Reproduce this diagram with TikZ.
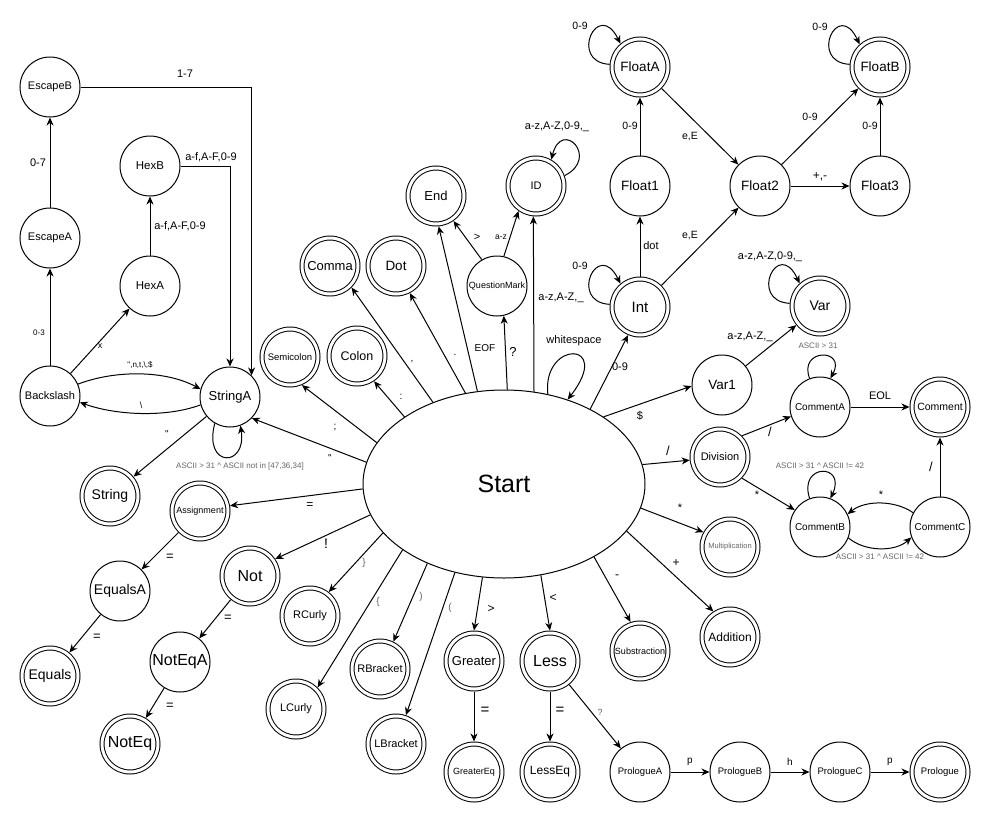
\documentclass[tikz,border=0pt]{standalone}
\usepackage{fontspec}
\newfontfamily\lsans{Liberation Sans}
\usetikzlibrary{arrows.meta,shapes.geometric}
\newcommand\fsz[1]{\lsans\fontsize{#1}{#1}\selectfont}
\definecolor{lblgray}{HTML}{666666}

\begin{document}
\begin{tikzpicture}[x=1pt,y=-1pt,
  st/.style={circle,draw,line width=1pt,minimum size=60pt,inner sep=0pt,outer sep=0.5pt,font=\fsz{11}},
  acc/.style={circle,draw,line width=1pt,double,double distance=3pt,minimum size=56pt,inner sep=0pt,outer sep=2.5pt,font=\fsz{11}},
  ar/.style={-{Stealth[length=8pt,width=7pt,inset=2.5pt]},line width=1pt},
  lb/.style={inner sep=0pt,font=\fsz{11}},
  sm/.style={inner sep=0pt,font=\fsz{8},text=lblgray},
]
\fill[white] (0,0) rectangle (991,822);
\useasboundingbox (0,0) rectangle (991,822);

% ---------- states ----------
\node[ellipse,draw,line width=1pt,minimum width=282pt,minimum height=188pt,inner sep=0pt,font=\fsz{25}] (Start) at (504,484) {Start};

\node[st] (EscapeB) at (50,87) {EscapeB};
\node[st] (EscapeA) at (50,238) {EscapeA};
\node[st,font=\fsz{11.5}] (HexB) at (150,166) {HexB};
\node[st,font=\fsz{11.5}] (HexA) at (150,286) {HexA};
\node[st] (Backslash) at (50,396) {Backslash};
\node[st,font=\fsz{13}] (StringA) at (230,397) {StringA};
\node[acc,font=\fsz{14}] (String) at (110,496) {String};
\node[acc,font=\fsz{9}] (Assignment) at (200,511) {Assignment};
\node[st,font=\fsz{14}] (EqualsA) at (120,591) {EqualsA};
\node[acc,font=\fsz{14}] (Equals) at (50,676) {Equals};
\node[acc,font=\fsz{16}] (Not) at (250,576) {Not};
\node[st,font=\fsz{16}] (NotEqA) at (180,662) {NotEqA};
\node[acc,font=\fsz{16}] (NotEq) at (130,744) {NotEq};
\node[acc] (RCurly) at (310,616) {RCurly};
\node[acc] (LCurly) at (296,709) {LCurly};
\node[acc] (RBracket) at (380,669) {RBracket};
\node[acc] (LBracket) at (396,744) {LBracket};
\node[acc,font=\fsz{13}] (Greater) at (474,661) {Greater};
\node[acc,font=\fsz{9}] (GreaterEq) at (474,772) {GreaterEq};
\node[acc,font=\fsz{16}] (Less) at (550,661) {Less};
\node[acc,font=\fsz{12}] (LessEq) at (550,772) {LessEq};
\node[acc,font=\fsz{9}] (Substraction) at (640,651) {Substraction};
\node[acc,font=\fsz{12}] (Addition) at (730,637) {Addition};
\node[st,font=\fsz{9.5}] (PrologueA) at (640,772) {PrologueA};
\node[st,font=\fsz{9.5}] (PrologueB) at (740,772) {PrologueB};
\node[st,font=\fsz{9.5}] (PrologueC) at (840,772) {PrologueC};
\node[acc,font=\fsz{9.5}] (Prologue) at (940,772) {Prologue};
\node[acc,font=\fsz{7.5},text=lblgray] (Multiplication) at (730,547) {Multiplication};
\node[acc] (Division) at (720,457) {Division};
\node[st,font=\fsz{13.5}] (Var1) at (722,385) {Var1};
\node[st,font=\fsz{10}] (CommentA) at (820,407) {CommentA};
\node[acc,font=\fsz{10.5}] (Comment) at (940,407) {Comment};
\node[st,font=\fsz{10}] (CommentB) at (820,527) {CommentB};
\node[st,font=\fsz{10}] (CommentC) at (940,527) {CommentC};
\node[acc,font=\fsz{14}] (Var) at (820,306) {Var};
\node[acc,font=\fsz{15}] (Int) at (640,307) {Int};
\node[st,font=\fsz{13.5}] (Float1) at (640,186) {Float1};
\node[acc,font=\fsz{13.5}] (FloatA) at (640,67) {FloatA};
\node[st,font=\fsz{13.5}] (Float2) at (760,186) {Float2};
\node[st,font=\fsz{13.5}] (Float3) at (880,186) {Float3};
\node[acc,font=\fsz{13.5}] (FloatB) at (880,67) {FloatB};
\node[acc] (ID) at (536,186) {ID};
\node[acc,font=\fsz{13}] (End) at (436,196) {End};
\node[st,font=\fsz{9}] (QuestionMark) at (497,286) {QuestionMark};
\node[acc,font=\fsz{13}] (Comma) at (330,266) {Comma};
\node[acc,font=\fsz{13.5}] (Dot) at (396,266) {Dot};
\node[acc,font=\fsz{9.5}] (Semicolon) at (290,357) {Semicolon};
\node[acc,font=\fsz{12.5}] (Colon) at (357,356) {Colon};

% ---------- strings and escapes ----------
\draw[ar] (Backslash) -- (EscapeA) node[lb,font=\fsz{8}] at (39,333) {0-3};
\draw[ar] (EscapeA) -- (EscapeB) node[lb] at (38,163) {0-7};
\draw[ar] (Backslash) -- (HexA) node[lb,font=\fsz{9}] at (100,346) {x};
\draw[ar] (HexA) -- (HexB) node[lb] at (180,226) {a-f,A-F,0-9};
\draw[ar] (HexB.east) -| (StringA.north) node[lb] at (211,157) {a-f,A-F,0-9};
\draw[ar] (EscapeB.east) -| (StringA.45) node[lb] at (185,74) {1-7};
\draw[ar] (Backslash.23) .. controls (115,370) and (165,370) .. (StringA.165)
  node[lb,font=\fsz{8}] at (140,365) {",n,t,\textbackslash,\$};
\draw[ar] (StringA.195) .. controls (165,418) and (115,415) .. (Backslash.-12)
  node[lb,font=\fsz{9}] at (141,405) {\textbackslash};
\draw[ar] (StringA) -- (String) node[lb,font=\fsz{10}] at (167,434) {"};
\draw[ar] (StringA.-120) .. controls (203,468) and (247,468) .. (StringA.-70)
  node[sm] at (240,466) {ASCII > 31 \textasciicircum\ ASCII not in [47,36,34]};

% ---------- transitions leaving Start ----------
\draw[ar] (Start.171) -- (StringA.-44) node[lb,font=\fsz{10}] at (330,458) {"};
\draw[ar] (Start.162) -- (Semicolon.-67) node[lb,font=\fsz{10}] at (335,427) {;};
\draw[ar] (Start.146) -- (Colon.-56) node[lb,font=\fsz{10}] at (401,397) {:};
\draw[ar] (Start.131) -- (Comma.-45) node[lb,font=\fsz{10}] at (412,362) {,};
\draw[ar] (Start.113) -- (Dot.-63) node[lb,font=\fsz{10}] at (455,355) {.};
\draw[ar] (Start.106) -- (End.-85) node[lb,font=\fsz{10}] at (485,348) {EOF};
\draw[ar] (Start.88) -- (QuestionMark.-77) node[lb,font=\fsz{13}] at (513,352) {?};
\draw[ar] (Start.72.5) -- (ID.-95) node[lb] at (561,298) {a-z,A-Z,\_};
\draw[ar] (Start.64) .. controls (542,340) and (614,340) .. (Start.53)
  node[lb] at (574,341) {whitespace};
\draw[ar] (Start.41) -- (Int.-113) node[lb] at (620,367) {0-9};
\draw[ar] (Start.34) -- (Var1.182) node[lb] at (640,416) {\$};
\draw[ar] (Start.8) -- (Division.186) node[lb,font=\fsz{13}] at (668,451) {/};
\draw[ar] (Start.-10) -- (Multiplication.151) node[lb] at (680,508) {*};
\draw[ar] (Start.-21) -- (Addition.123) node[lb,font=\fsz{12}] at (676,563) {+};
\draw[ar] (Start.-39) -- (Substraction.108) node[lb,font=\fsz{12}] at (617,577) {-};
\draw[ar] (Start.-68) -- (Less.north) node[lb,font=\fsz{12}] at (553,598) {<};
\draw[ar] (Start.-103) -- (Greater.north) node[lb,font=\fsz{12}] at (491,609) {>};
\draw[ar] (Start.-119) -- (LBracket.71) node[lb,font=\fsz{10},text=lblgray] at (450,608) {(};
\draw[ar] (Start.-134) -- (RBracket.64) node[lb,font=\fsz{10},text=lblgray] at (421,597) {)};
\draw[ar] (Start.-147) -- (LCurly.45) node[lb,font=\fsz{10},text=lblgray] at (378,602) {\{};
\draw[ar] (Start.-158) -- (RCurly.52) node[lb,font=\fsz{10},text=lblgray] at (364,563) {\}};
\draw[ar] (Start.-167) -- (Not.34) node[lb,font=\fsz{14}] at (326,544) {!};
\draw[ar] (Start.-178) -- (Assignment.10) node[lb,font=\fsz{12}] at (310,506) {=};

% ---------- question mark and identifiers ----------
\draw[ar] (QuestionMark.120) -- (End.-55) node[lb] at (477,237) {>};
\draw[ar] (QuestionMark.77) -- (ID.235) node[lb,font=\fsz{8.5}] at (501,237) {a-z};
\draw[ar] (ID.20) .. controls (600,158) and (562,118) .. (ID.60)
  node[lb] at (557,127) {a-z,A-Z,0-9,\_};

% ---------- numbers ----------
\draw[ar] (Int.175) .. controls (568,302) and (598,238) .. (Int.130) node[lb,font=\fsz{10.5}] at (580,266) {0-9};
\draw[ar] (Int) -- (Float1) node[lb] at (651,246) {dot};
\draw[ar] (Int) -- (Float2) node[lb,font=\fsz{10.5}] at (690,236) {e,E};
\draw[ar] (Float1) -- (FloatA) node[lb,font=\fsz{10.5}] at (630,126) {0-9};
\draw[ar] (FloatA.175) .. controls (568,62) and (598,-2) .. (FloatA.130) node[lb,font=\fsz{10.5}] at (580,26) {0-9};
\draw[ar] (FloatA) -- (Float2) node[lb,font=\fsz{10.5}] at (690,137) {e,E};
\draw[ar] (Float2) -- (FloatB) node[lb,font=\fsz{10.5}] at (810,117) {0-9};
\draw[ar] (Float2) -- (Float3) node[lb,font=\fsz{12}] at (820,177) {+,-};
\draw[ar] (Float3) -- (FloatB) node[lb,font=\fsz{10.5}] at (870,126) {0-9};
\draw[ar] (FloatB.175) .. controls (808,62) and (838,-2) .. (FloatB.132) node[lb,font=\fsz{10.5}] at (820,27) {0-9};

% ---------- variables ----------
\draw[ar] (Var1) -- (Var) node[lb] at (750,337) {a-z,A-Z,\_};
\draw[ar] (Var.175) .. controls (748,301) and (778,237) .. (Var.132)
  node[lb] at (770,257) {a-z,A-Z,0-9,\_};

% ---------- comments ----------
\draw[ar] (Division.44) -- (CommentA.198) node[lb,font=\fsz{13}] at (770,432) {/};
\draw[ar] (Division.-44) -- (CommentB.146) node[lb] at (757,495) {*};
\draw[ar] (CommentA) -- (Comment) node[lb] at (880,396) {EOL};
\draw[ar] (CommentA.110) .. controls (798,348) and (847,348) .. (CommentA.70)
  node[sm] at (818,346) {ASCII > 31};
\draw[ar] (CommentB.110) .. controls (798,463) and (847,463) .. (CommentB.70)
  node[sm] at (820,466) {ASCII > 31 \textasciicircum\ ASCII != 42};
\draw[ar] (CommentB.-21) .. controls (865,552) and (895,552) .. (CommentC.200)
  node[sm] at (880,557) {ASCII > 31 \textasciicircum\ ASCII != 42};
\draw[ar] (CommentC.152) .. controls (895,500) and (865,500) .. (CommentB.25)
  node[lb] at (881,495) {*};
\draw[ar] (CommentC) -- (Comment) node[lb,font=\fsz{13}] at (931,467) {/};

% ---------- assignment and comparison ----------
\draw[ar] (Assignment) -- (EqualsA) node[lb,font=\fsz{13}] at (170,557) {=};
\draw[ar] (EqualsA) -- (Equals) node[lb,font=\fsz{13}] at (97,637) {=};
\draw[ar] (Not) -- (NotEqA) node[lb,font=\fsz{13}] at (228,618) {=};
\draw[ar] (NotEqA) -- (NotEq) node[lb,font=\fsz{13}] at (170,706) {=};
\draw[ar] (Greater) -- (GreaterEq) node[lb,font=\fsz{15}] at (485,711) {=};
\draw[ar] (Less) -- (LessEq) node[lb,font=\fsz{15}] at (560,711) {=};

% ---------- prologue ----------
\draw[ar] (Less) -- (PrologueA) node[lb,font=\fsz{9},text=lblgray] at (600,712) {?};
\draw[ar] (PrologueA) -- (PrologueB) node[lb,font=\fsz{10}] at (690,762) {p};
\draw[ar] (PrologueB) -- (PrologueC) node[lb,font=\fsz{10}] at (790,762) {h};
\draw[ar] (PrologueC) -- (Prologue) node[lb,font=\fsz{10}] at (890,762) {p};
\end{tikzpicture}
\end{document}
